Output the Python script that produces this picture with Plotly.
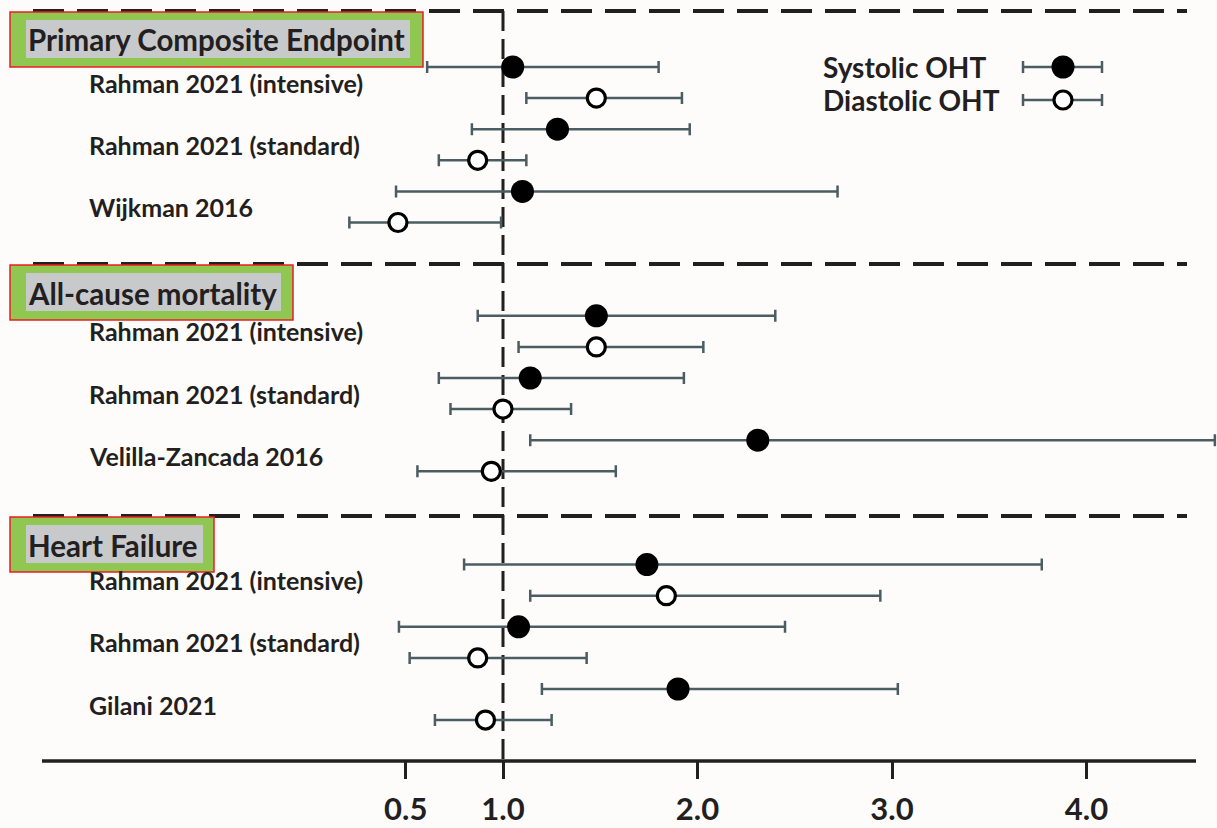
import plotly.graph_objects as go

# ---------------- data ----------------
groups = ["Primary Composite Endpoint", "All-cause mortality", "Heart Failure"]
studies = [
    ["Rahman 2021 (intensive)", "Rahman 2021 (standard)", "Wijkman 2016"],
    ["Rahman 2021 (intensive)", "Rahman 2021 (standard)", "Velilla-Zancada 2016"],
    ["Rahman 2021 (intensive)", "Rahman 2021 (standard)", "Gilani 2021"],
]
sys_hr = [1.05, 1.28, 1.10, 1.48, 1.14, 2.31, 1.74, 1.08, 1.90]
sys_lo = [0.61, 0.84, 0.45, 0.87, 0.67, 1.14, 0.80, 0.465, 1.20]
sys_hi = [1.80, 1.96, 2.72, 2.40, 1.93, 4.66, 3.77, 2.45, 3.03]
dia_hr = [1.48, 0.87, 0.46, 1.48, 1.00, 0.94, 1.84, 0.87, 0.91]
dia_lo = [1.12, 0.67, 0.21, 1.08, 0.73, 0.56, 1.14, 0.52, 0.65]
dia_hi = [1.92, 1.12, 0.99, 2.03, 1.35, 1.58, 2.94, 1.43, 1.25]
tick_vals = [0.5, 1.0, 2.0, 3.0, 4.0]
tick_text = ["0.5", "1.0", "2.0", "3.0", "4.0"]
legend_names = ["Systolic OHT", "Diastolic OHT"]

# ---------------- layout constants ----------------
W, H = 1217, 828
PLOT_BOTTOM = 761
X1PX, XUNIT = 503.0, 194.5   # pixel of value 1.0, pixels per unit
Y0PX, YUNIT = 67.0, 31.1     # pixel of row 0, pixels per row
INK = "#231f20"
BAR = "#4b5d63"
FONT = "Lato"


def xv(px):
    return 1 + (px - X1PX) / XUNIT


def yv(py):
    return (py - Y0PX) / YUNIT


def xp(px):
    return px / W


def yp(py):
    return (PLOT_BOTTOM - py) / PLOT_BOTTOM


sys_y, dia_y = [], []
for g in range(len(groups)):
    for j in range(len(studies[g])):
        sys_y.append(g * 8 + 2 * j)
        dia_y.append(g * 8 + 2 * j + 1)

fig = go.Figure()

# systolic
fig.add_trace(go.Scatter(
    x=sys_hr, y=sys_y, mode="markers", showlegend=False,
    marker=dict(size=23, color="black", line=dict(width=0)),
    error_x=dict(type="data", symmetric=False,
                 array=[h - m for h, m in zip(sys_hi, sys_hr)],
                 arrayminus=[m - l for m, l in zip(sys_hr, sys_lo)],
                 color=BAR, thickness=2.5, width=6),
    cliponaxis=False,
))
# diastolic
fig.add_trace(go.Scatter(
    x=dia_hr, y=dia_y, mode="markers", showlegend=False,
    marker=dict(size=18, color="white", line=dict(width=3.2, color="black")),
    error_x=dict(type="data", symmetric=False,
                 array=[h - m for h, m in zip(dia_hi, dia_hr)],
                 arrayminus=[m - l for m, l in zip(dia_hr, dia_lo)],
                 color=BAR, thickness=2.5, width=6),
    cliponaxis=False,
))

# custom legend
leg_x = xv(1063)
leg_minus = (1063 - 1023) / XUNIT
leg_plus = (1102 - 1063) / XUNIT
for i, (name, py) in enumerate(zip(legend_names, [67, 100])):
    mk = (dict(size=23, color="black", line=dict(width=0)) if i == 0 else
          dict(size=18, color="white", line=dict(width=3.2, color="black")))
    fig.add_trace(go.Scatter(
        x=[leg_x], y=[yv(py)], mode="markers", showlegend=False, marker=mk,
        error_x=dict(type="data", symmetric=False, array=[leg_plus],
                     arrayminus=[leg_minus], color=BAR, thickness=2.5, width=6),
    ))
    fig.add_annotation(x=xp(821), y=yp(py), xref="paper", yref="paper",
                       text=name, showarrow=False, xanchor="left", yanchor="middle",
                       font=dict(family=FONT, size=28, color=INK, weight="bold"))

shapes = []
# horizontal dashed separators
group_top = [11, 264, 516]
for py in group_top:
    shapes.append(dict(type="line", xref="paper", yref="paper",
                       x0=xp(33), x1=xp(1187), y0=yp(py), y1=yp(py),
                       line=dict(color=INK, width=4, dash="31px,13px")))
# vertical dashed reference line at 1.0
shapes.append(dict(type="line", xref="x", yref="paper", x0=1, x1=1,
                   y0=yp(11), y1=yp(PLOT_BOTTOM),
                   line=dict(color=INK, width=3, dash="20px,8px"), layer="below"))
# x-axis line
shapes.append(dict(type="line", xref="paper", yref="paper",
                   x0=xp(42), x1=xp(1196), y0=0, y1=0,
                   line=dict(color=INK, width=3.5)))

# group header boxes
box_right = [423, 293, 214]
inner_right = [410, 281, 203]
for g, name in enumerate(groups):
    top = group_top[g] + 1
    shapes.append(dict(type="rect", xref="paper", yref="paper",
                       x0=xp(10), x1=xp(box_right[g]), y0=yp(top), y1=yp(top + 55),
                       fillcolor="#8fc750", line=dict(color="#ec1c24", width=1.5)))
    shapes.append(dict(type="rect", xref="paper", yref="paper",
                       x0=xp(26), x1=xp(inner_right[g]), y0=yp(top + 8), y1=yp(top + 46),
                       fillcolor="#c8c9cb", line=dict(width=0)))
    fig.add_annotation(x=xp(26), y=yp(top + 28), xref="paper", yref="paper",
                       text=name, showarrow=False, xanchor="left", yanchor="middle",
                       font=dict(family=FONT, size=29.5, color=INK, weight="bold"))
    for j, s in enumerate(studies[g]):
        fig.add_annotation(x=xp(87), y=g * 8 + 2 * j + 0.5, xref="paper", yref="y",
                           text=s, showarrow=False, xanchor="left", yanchor="middle",
                           font=dict(family=FONT, size=25, color=INK, weight="bold"))

fig.update_layout(
    width=W, height=H,
    margin=dict(l=0, r=0, t=0, b=H - PLOT_BOTTOM, pad=0),
    paper_bgcolor="#fdfcfb", plot_bgcolor="#fdfcfb",
    shapes=shapes, showlegend=False,
    xaxis=dict(range=[xv(0), xv(W)], showgrid=False, zeroline=False, showline=False,
               tickmode="array", tickvals=tick_vals, ticktext=tick_text,
               ticks="outside", ticklen=17, tickwidth=3, tickcolor=INK,
               ticklabelstandoff=4,
               tickfont=dict(family=FONT, size=31, color=INK, weight="bold"),
               fixedrange=True),
    yaxis=dict(range=[yv(PLOT_BOTTOM), yv(0)], showgrid=False, zeroline=False,
               showline=False, showticklabels=False, ticks="", fixedrange=True),
)

fig.write_html("out.html", post_script="document.body.style.margin='0';",
               config={"displayModeBar": False})
